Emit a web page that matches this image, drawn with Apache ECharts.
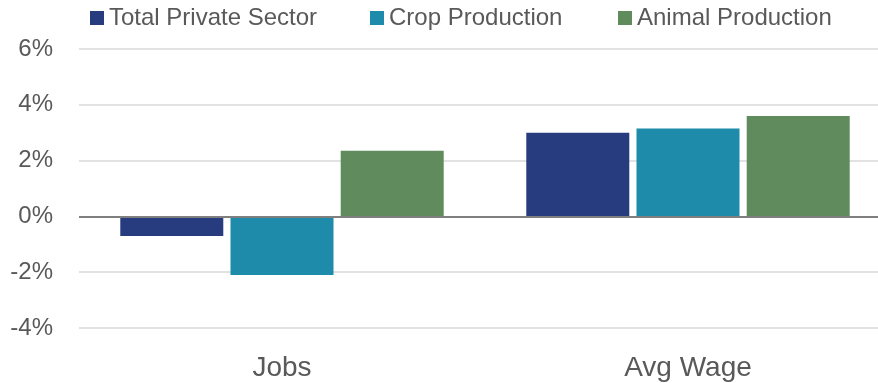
<!DOCTYPE html>
<html>
<head>
<meta charset="utf-8">
<script src="https://cdn.jsdelivr.net/npm/echarts@6/dist/echarts.min.js"></script>
<style>
  html, body { margin: 0; padding: 0; background: #fff; }
  #chart { width: 878px; height: 383px; }
</style>
</head>
<body>
<div id="chart"></div>
<script>
// Year-over-year change, percent
const categories = ['Jobs', 'Avg Wage'];
const totalPrivate = [-0.7, 3.0];
const cropProduction = [-2.1, 3.15];
const animalProduction = [2.35, 3.6];
const yTicks = [-4, -2, 0, 2, 4, 6];

const seriesNames = ['Total Private Sector', 'Crop Production', 'Animal Production'];
const seriesData = [totalPrivate, cropProduction, animalProduction];
const colors = ['#273B7F', '#1D8BA9', '#608B5C'];

const font = '"Liberation Sans", Arial, sans-serif';
const legendLeft = [90, 370, 618];

const chart = echarts.init(document.getElementById('chart'), null, { renderer: 'canvas' });

chart.setOption({
  animation: false,
  color: colors,
  // one legend block per series so each entry sits at its own offset
  legend: seriesNames.map((name, i) => ({
    top: 6,
    left: legendLeft[i],
    padding: 0,
    itemWidth: 14,
    itemHeight: 14,
    icon: 'rect',
    textStyle: { fontFamily: font, fontSize: 24, color: '#595959' },
    data: [name]
  })),
  grid: { left: 79, width: 812, top: 49, bottom: 55, outerBoundsMode: 'none' },
  xAxis: {
    type: 'category',
    data: categories,
    axisLine: { show: false },
    axisTick: { show: false },
    axisLabel: { fontFamily: font, fontSize: 28, color: '#595959', margin: 26 }
  },
  yAxis: {
    type: 'value',
    min: yTicks[0],
    max: yTicks[yTicks.length - 1],
    interval: 2,
    axisLine: { show: false },
    axisTick: { show: false },
    splitLine: { lineStyle: { color: '#D9D9D9', width: 1.5 } },
    axisLabel: {
      fontFamily: font,
      fontSize: 24,
      color: '#595959',
      margin: 26,
      formatter: v => v + '%'
    }
  },
  series: seriesNames.map((name, i) => ({
    name,
    type: 'bar',
    data: seriesData[i],
    barWidth: 103,
    barGap: '7%',
    itemStyle: { color: colors[i] },
    markLine: i === 0 ? {
      silent: true,
      symbol: 'none',
      label: { show: false },
      lineStyle: { color: '#7F7F7F', width: 2, type: 'solid' },
      data: [{ yAxis: 0 }]
    } : undefined
  }))
});
</script>
</body>
</html>
